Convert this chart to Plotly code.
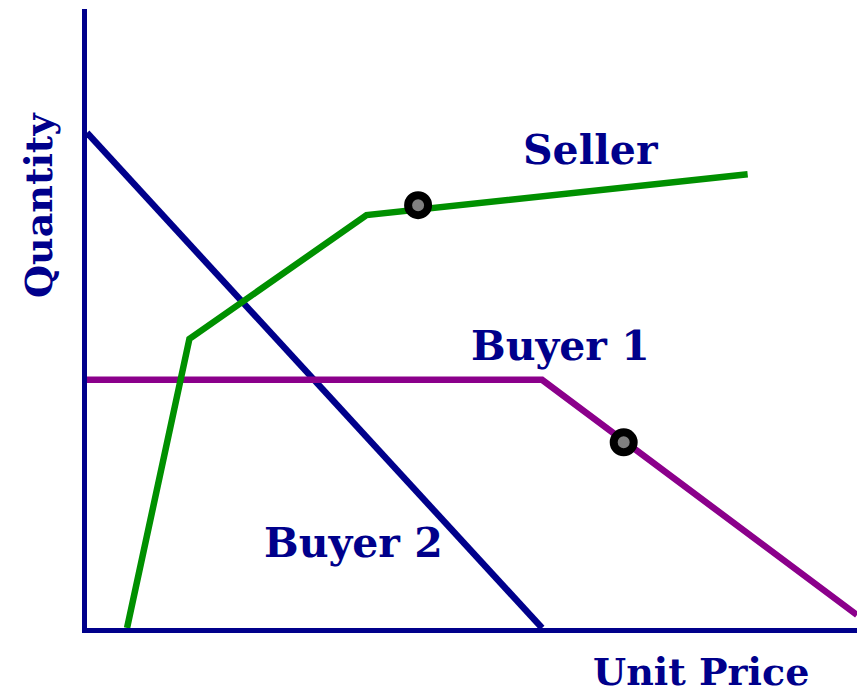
import plotly.graph_objects as go

# Data (abstract units: price 0-100, quantity 0-100)
buyer2_price = [0, 59.1]
buyer2_qty = [80.0, 0]
buyer1_price = [0, 59.1, 100]
buyer1_qty = [40.1, 40.1, 2.1]
seller_price = [5.2, 13.3, 36.3, 85.8]
seller_qty = [0, 46.7, 66.7, 73.3]
point_price = [43.0, 69.7]
point_qty = [68.3, 30.0]

NAVY = "#00008B"
GREEN = "#009000"
PURPLE = "#8B008B"
FONT = dict(family="DejaVu Serif, serif", size=41, color=NAVY)
AXFONT = dict(family="DejaVu Serif, serif", size=38, color=NAVY)

fig = go.Figure()
fig.add_trace(go.Scatter(x=buyer2_price, y=buyer2_qty, mode="lines",
                         line=dict(color=NAVY, width=6.5), cliponaxis=False))
fig.add_trace(go.Scatter(x=buyer1_price, y=buyer1_qty, mode="lines",
                         line=dict(color=PURPLE, width=6.5), cliponaxis=False))
fig.add_trace(go.Scatter(x=seller_price, y=seller_qty, mode="lines",
                         line=dict(color=GREEN, width=6.5), cliponaxis=False))
fig.add_trace(go.Scatter(x=point_price, y=point_qty, mode="markers",
                         marker=dict(size=20, color="#808080",
                                     line=dict(color="black", width=8)),
                         cliponaxis=False))

def lbl(text, x, y, font=FONT, **kw):
    fig.add_annotation(text=f"<b>{text}</b>", x=x, y=y, showarrow=False,
                       font=font, xanchor="center", yanchor="middle", **kw)

lbl("Seller", 65.4, 77.3)
lbl("Buyer 1", 61.5, 45.6)
lbl("Buyer 2", 34.6, 13.8)
lbl("Unit Price", 0.797, -0.071, font=AXFONT, xref="paper", yref="paper")
lbl("Quantity", -0.063, 0.684, font=AXFONT, xref="paper", yref="paper", textangle=-90)

fig.update_layout(
    width=857, height=697,
    margin=dict(l=87, r=0, t=9, b=69),
    paper_bgcolor="white", plot_bgcolor="white",
    showlegend=False,
    xaxis=dict(range=[0, 100], showgrid=False, zeroline=False, showticklabels=False,
               ticks="", showline=True, linecolor=NAVY, linewidth=5),
    yaxis=dict(range=[0, 100], showgrid=False, zeroline=False, showticklabels=False,
               ticks="", showline=True, linecolor=NAVY, linewidth=5),
)
fig.write_html("out.html", config={"displayModeBar": False},
               post_script="document.body.style.margin='0';")
